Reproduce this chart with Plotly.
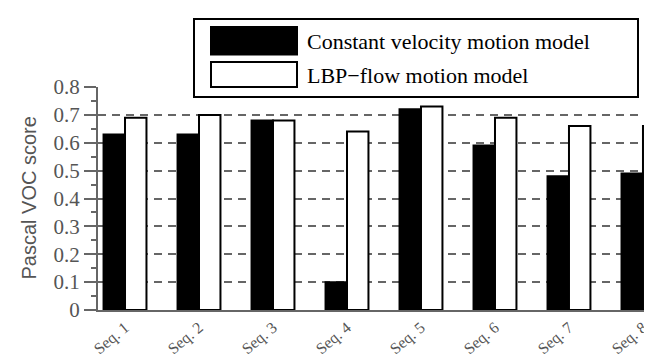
import plotly.graph_objects as go

categories = ["Seq. 1", "Seq. 2", "Seq. 3", "Seq. 4", "Seq. 5", "Seq. 6", "Seq. 7", "Seq. 8"]
const_velocity = [0.63, 0.63, 0.68, 0.10, 0.72, 0.59, 0.48, 0.49]
lbp_flow = [0.69, 0.70, 0.68, 0.64, 0.73, 0.69, 0.66, 0.66]
series_names = ["Constant velocity motion model", "LBP\u2212flow motion model"]
y_ticks = [0, 0.1, 0.2, 0.3, 0.4, 0.5, 0.6, 0.7, 0.8]
y_ticktext = ["0", "0.1", "0.2", "0.3", "0.4", "0.5", "0.6", "0.7", "0.8"]
y_title = "Pascal VOC score"

W, H = 652, 356
ML, MR, MT, MB = 90, 0, 79, 54
PW, PH = W - ML - MR, H - MT - MB

def px(x):
    return (x - ML) / PW

def py(y):
    return (H - MB - y) / PH

serif = "Liberation Serif, Times New Roman, serif"
sans = "Liberation Sans, Arial, sans-serif"
gray = "#555555"

fig = go.Figure()
fig.add_trace(go.Bar(x=categories, y=const_velocity, name=series_names[0],
                     marker=dict(color="black", line=dict(color="black", width=2))))
fig.add_trace(go.Bar(x=categories, y=lbp_flow, name=series_names[1],
                     marker=dict(color="white", line=dict(color="black", width=2))))

fig.update_layout(
    width=W, height=H,
    margin=dict(l=ML, r=MR, t=MT, b=MB, autoexpand=False),
    paper_bgcolor="white", plot_bgcolor="white",
    barmode="group", bargap=0.42, bargroupgap=0,
    showlegend=False,
    xaxis=dict(range=[-0.365, 7.23], showgrid=False, showline=True, linecolor="#666666",
               linewidth=2, ticks="", tickangle=-40, automargin=False,
               tickfont=dict(family=serif, size=16, color=gray)),
    yaxis=dict(range=[0, 0.8], tickvals=y_ticks, ticktext=y_ticktext, automargin=False,
               showline=True, linecolor="#666666", linewidth=2,
               ticks="outside", ticklen=12, tickwidth=2, tickcolor="#666666",
               tickfont=dict(family=serif, size=21, color=gray),
               showgrid=True, gridcolor="#666666", gridwidth=1.5, griddash="8px,6px",
               zeroline=False,
               minor=dict(dtick=0.05, ticks="outside", ticklen=5, tickwidth=2,
                          tickcolor="#666666", showgrid=False)),
)

fig.add_annotation(xref="paper", yref="paper", x=px(20), y=0.5, text=y_title,
                   textangle=-90, showarrow=False, xanchor="center", yanchor="middle",
                   font=dict(family=sans, size=20, color=gray))

# custom legend
fig.add_shape(type="rect", xref="paper", yref="paper",
              x0=px(186), x1=px(630), y0=py(89), y1=py(11),
              line=dict(color="black", width=2), fillcolor="white", layer="above")
fig.add_shape(type="rect", xref="paper", yref="paper",
              x0=px(203), x1=px(289), y0=py(46.5), y1=py(19),
              line=dict(color="black", width=2), fillcolor="black", layer="above")
fig.add_shape(type="rect", xref="paper", yref="paper",
              x0=px(203), x1=px(289), y0=py(79), y1=py(54),
              line=dict(color="black", width=2), fillcolor="white", layer="above")
for name, yc in zip(series_names, [33, 67]):
    fig.add_annotation(xref="paper", yref="paper", x=px(297), y=py(yc),
                       text=name, showarrow=False, xanchor="left", yanchor="middle",
                       font=dict(family=serif, size=22, color="black"))

fig.write_html("out.html")
